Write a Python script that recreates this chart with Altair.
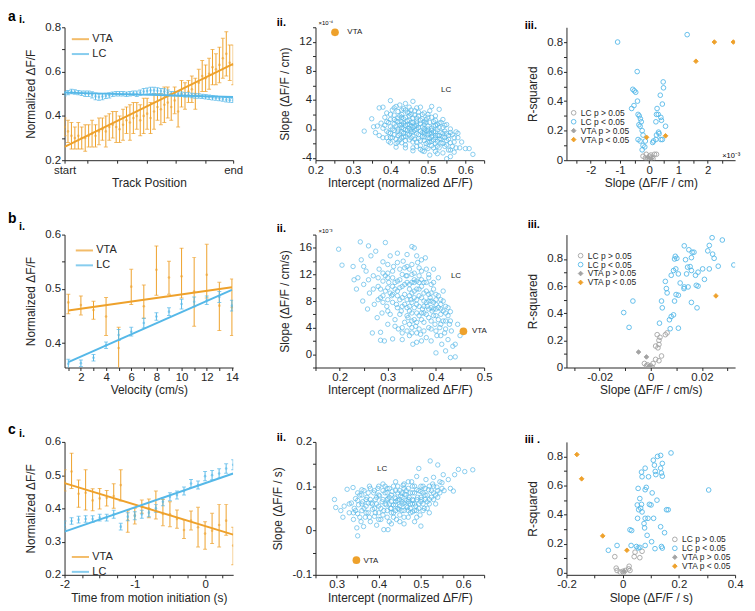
import altair as alt
import pandas as pd

FONT = "Liberation Sans"
VTA_C = "#EEA12B"
LC_C = "#55B8E8"
GREY = "#A3A3A3"
INK = "#262626"
W, H = 170, 134

# ---------------- a.i  track position ----------------
A1_X = list(range(50))
A1_VTA = [0.35, 0.33, 0.31, 0.30, 0.31, 0.30, 0.30, 0.31, 0.32, 0.31,
          0.33, 0.34, 0.33, 0.35, 0.36, 0.35, 0.34, 0.36, 0.38, 0.37,
          0.39, 0.40, 0.38, 0.40, 0.41, 0.39, 0.42, 0.44, 0.43, 0.45,
          0.46, 0.44, 0.47, 0.42, 0.50, 0.49, 0.51, 0.52, 0.50, 0.55,
          0.58, 0.57, 0.59, 0.62, 0.61, 0.63, 0.66, 0.68, 0.64, 0.63]
A1_VTA_ERR = [0.04, 0.05, 0.06, 0.05, 0.06, 0.05, 0.06, 0.05, 0.06, 0.05,
              0.06, 0.05, 0.07, 0.06, 0.06, 0.07, 0.06, 0.07, 0.06, 0.08,
              0.07, 0.06, 0.07, 0.08, 0.07, 0.07, 0.08, 0.06, 0.07, 0.08,
              0.07, 0.06, 0.06, 0.07, 0.06, 0.06, 0.05, 0.06, 0.07, 0.06,
              0.07, 0.06, 0.07, 0.08, 0.07, 0.08, 0.09, 0.10, 0.08, 0.09]
A1_LC = [0.500, 0.505, 0.510, 0.508, 0.505, 0.502, 0.500, 0.500, 0.495, 0.488,
         0.485, 0.487, 0.490, 0.493, 0.498, 0.500, 0.500, 0.500, 0.498, 0.500,
         0.502, 0.500, 0.505, 0.510, 0.512, 0.515, 0.515, 0.513, 0.512, 0.510,
         0.505, 0.500, 0.500, 0.500, 0.498, 0.495, 0.495, 0.492, 0.490, 0.490,
         0.488, 0.486, 0.484, 0.482, 0.480, 0.478, 0.476, 0.473, 0.471, 0.470]
A1_LC_ERR = [0.010, 0.010, 0.010, 0.010, 0.010, 0.010, 0.012, 0.012, 0.014, 0.015,
             0.015, 0.014, 0.012, 0.012, 0.010, 0.010, 0.010, 0.010, 0.010, 0.010,
             0.010, 0.012, 0.012, 0.014, 0.014, 0.014, 0.014, 0.014, 0.012, 0.012,
             0.012, 0.010, 0.010, 0.010, 0.010, 0.010, 0.010, 0.010, 0.010, 0.010,
             0.010, 0.010, 0.010, 0.010, 0.010, 0.010, 0.010, 0.010, 0.010, 0.010]
A1_FIT_X = [0, 49]
A1_VTA_FIT = [0.26, 0.635]
A1_LC_FIT = [0.505, 0.485]
A1_XTICKS = [0, 6.6, 15.4, 24, 32.3, 41, 49]
A1_XLABELS = [(0, "start"), (49, "end")]
A1_YTICKS = [0.2, 0.3, 0.4, 0.5, 0.6, 0.7, 0.8]
A1_YLABELS = [(0.2, "0.2"), (0.4, "0.4"), (0.6, "0.6"), (0.8, "0.8")]

# ---------------- b.i  velocity ----------------
B1_X = [1, 2, 3, 4, 5, 6, 7, 8, 9, 10, 11, 12, 13, 14]
B1_VTA = [0.475, 0.470, 0.461, 0.449, 0.391, 0.504, 0.468, 0.535, 0.521, 0.523, 0.495, 0.526, 0.469, 0.466]
B1_VTA_LO = [0.454, 0.452, 0.444, 0.414, 0.340, 0.471, 0.446, 0.488, 0.490, 0.483, 0.431, 0.483, 0.423, 0.414]
B1_VTA_HI = [0.490, 0.487, 0.477, 0.484, 0.429, 0.536, 0.507, 0.579, 0.551, 0.575, 0.558, 0.582, 0.512, 0.518]
B1_LC = [0.362, 0.363, 0.373, 0.396, 0.415, 0.421, 0.437, 0.449, 0.458, 0.472, 0.476, 0.479, 0.485, 0.469]
B1_LC_ERR = [0.008, 0.006, 0.006, 0.006, 0.010, 0.008, 0.009, 0.007, 0.007, 0.009, 0.009, 0.008, 0.010, 0.010]
B1_FIT_X = [1, 14]
B1_VTA_FIT = [0.460, 0.503]
B1_LC_FIT = [0.365, 0.498]
B1_XTICKS = list(range(1, 15))
B1_XLABELS = [(v, str(v)) for v in [2, 4, 6, 8, 10, 12, 14]]
B1_YTICKS = [0.4, 0.45, 0.5, 0.55, 0.6]
B1_YLABELS = [(0.4, "0.4"), (0.5, "0.5"), (0.6, "0.6")]

# ---------------- c.i  motion initiation ----------------
C1_X = [-2.0, -1.9, -1.8, -1.7, -1.6, -1.5, -1.4, -1.3, -1.2, -1.1, -1.0, -0.9, -0.8,
        -0.7, -0.6, -0.5, -0.4, -0.3, -0.2, -0.1, 0.0, 0.1, 0.2, 0.3, 0.4]
C1_VTA = [0.478, 0.511, 0.444, 0.447, 0.424, 0.430, 0.432, 0.437, 0.470, 0.365, 0.378, 0.405, 0.400,
          0.393, 0.383, 0.382, 0.368, 0.335, 0.363, 0.343, 0.324, 0.333, 0.350, 0.363, 0.288]
C1_VTA_LO = [0.452, 0.460, 0.403, 0.395, 0.393, 0.398, 0.407, 0.400, 0.422, 0.328, 0.353, 0.385, 0.372,
             0.368, 0.348, 0.345, 0.340, 0.309, 0.335, 0.284, 0.277, 0.294, 0.284, 0.319, 0.230]
C1_VTA_HI = [0.516, 0.566, 0.485, 0.516, 0.459, 0.460, 0.454, 0.474, 0.516, 0.393, 0.400, 0.425, 0.428,
             0.452, 0.427, 0.420, 0.395, 0.366, 0.392, 0.403, 0.360, 0.385, 0.412, 0.412, 0.343]
C1_LC = [0.350, 0.362, 0.366, 0.368, 0.368, 0.372, 0.372, 0.382, 0.345, 0.375, 0.378, 0.382, 0.387,
         0.400, 0.420, 0.435, 0.440, 0.452, 0.475, 0.470, 0.497, 0.500, 0.505, 0.520, 0.531]
C1_LC_ERR = [0.012, 0.010, 0.010, 0.010, 0.010, 0.010, 0.010, 0.012, 0.010, 0.012, 0.012, 0.012, 0.012,
             0.012, 0.012, 0.012, 0.012, 0.012, 0.012, 0.012, 0.014, 0.014, 0.014, 0.014, 0.015]
C1_FIT_X = [-2.0, 0.4]
C1_VTA_FIT = [0.476, 0.321]
C1_LC_FIT = [0.330, 0.505]
C1_XTICKS = [-2, -1.75, -1.5, -1.25, -1, -0.75, -0.5, -0.25, 0, 0.25]
C1_XLABELS = [(-2, "-2"), (-1, "-1"), (0, "0")]
C1_YTICKS = [0.2, 0.3, 0.4, 0.5, 0.6]
C1_YLABELS = [(0.2, "0.2"), (0.3, "0.3"), (0.4, "0.4"), (0.5, "0.5"), (0.6, "0.6")]

# ---------------- a.ii  intercept vs slope (x1e-4) ----------------
A2_LC = [(0.33, -0.3), (0.35, 1.4), (0.355, 0.3), (0.36, -0.5), (0.365, 0.4), (0.37, 2.9), (0.37, -0.9),
         (0.375, 0.8), (0.38, 3.0), (0.38, 0.1), (0.38, -1.2), (0.385, 1.6), (0.39, -0.3), (0.39, 2.2),
         (0.395, 0.9), (0.395, -1.7), (0.40, 3.9), (0.40, 1.3), (0.40, -0.6), (0.40, 0.3), (0.405, 2.6),
         (0.405, -1.2), (0.41, 0.7), (0.41, 1.9), (0.41, -0.2), (0.415, 3.1), (0.415, -2.0), (0.415, 1.1),
         (0.42, 0.0), (0.42, 2.4), (0.42, -0.9), (0.42, 1.5), (0.425, 0.5), (0.425, 3.3), (0.425, -1.5),
         (0.43, 1.0), (0.43, -0.4), (0.43, 2.0), (0.43, 0.2), (0.435, 2.8), (0.435, -1.1), (0.435, 0.8),
         (0.44, 3.5), (0.44, 1.6), (0.44, -0.1), (0.44, -2.2), (0.445, 0.6), (0.445, 2.3), (0.445, -0.7),
         (0.45, 1.2), (0.45, 3.0), (0.45, -1.5), (0.45, 0.1), (0.455, 2.0), (0.455, -0.4), (0.455, 0.9),
         (0.46, 3.8), (0.46, -2.6), (0.46, 1.5), (0.46, -1.0), (0.465, 0.4), (0.465, 2.5), (0.465, -0.2),
         (0.47, 1.1), (0.47, -1.8), (0.47, -0.6), (0.47, 2.9), (0.475, 0.2), (0.475, -1.3), (0.475, 1.8),
         (0.48, -2.3), (0.48, 0.7), (0.48, -0.3), (0.48, 3.0), (0.485, -1.0), (0.485, 1.4), (0.485, -3.0),
         (0.49, 0.0), (0.49, -1.6), (0.49, 2.2), (0.49, -0.7), (0.495, 0.9), (0.495, -2.0), (0.495, -0.2),
         (0.50, -1.2), (0.50, 1.6), (0.50, -2.7), (0.50, 0.4), (0.505, -0.6), (0.505, -1.8), (0.505, 2.5),
         (0.51, 0.1), (0.51, -1.0), (0.51, 3.1), (0.51, -2.3), (0.515, 1.0), (0.515, -0.4), (0.515, -1.5),
         (0.52, -3.1), (0.52, 0.5), (0.52, -2.0), (0.52, 1.8), (0.525, -0.9), (0.525, -0.1), (0.53, -1.4),
         (0.53, 2.7), (0.53, -2.6), (0.53, 0.8), (0.535, -0.5), (0.535, -1.9), (0.54, 0.2), (0.54, -3.3),
         (0.54, -1.1), (0.54, 1.3), (0.545, -2.4), (0.545, -0.3), (0.55, -1.6), (0.55, 0.6), (0.55, -4.1),
         (0.555, -2.9), (0.555, -0.9), (0.56, -3.8), (0.56, -1.9), (0.56, 0.0), (0.565, -2.4), (0.57, -1.2),
         (0.57, -3.2), (0.575, -0.4), (0.58, -1.2), (0.585, -2.6), (0.60, -2.7), (0.61, -2.7), (0.62, -3.5),
         (0.59, -1.8), (0.565, -0.8), (0.525, -3.4), (0.505, -3.6), (0.49, -3.1), (0.46, -3.0), (0.44, -2.6),
         (0.43, -1.9), (0.415, -2.5), (0.40, -1.9), (0.39, -1.2), (0.45, 0.6), (0.47, 0.5), (0.49, -0.4),
         (0.51, -0.6), (0.43, 0.6), (0.46, 0.2), (0.50, -0.3), (0.52, -0.9)]
A2_LC_CORE = [(0.385, 0.5), (0.39, 1.0), (0.395, -0.5), (0.40, 2.0), (0.405, 0.0), (0.41, -0.8), (0.41, 2.9),
              (0.415, 0.4), (0.415, -1.4), (0.42, 1.0), (0.42, -0.3), (0.425, 1.8), (0.425, -0.7), (0.43, 2.6),
              (0.43, -1.2), (0.435, 0.0), (0.435, 1.4), (0.44, 0.5), (0.44, -1.6), (0.44, 2.6), (0.445, 1.1),
              (0.445, -0.2), (0.45, -0.8), (0.45, 1.8), (0.455, 0.4), (0.455, -1.2), (0.455, 2.6), (0.46, 0.9),
              (0.46, -0.4), (0.465, 1.9), (0.465, -1.4), (0.47, 0.0), (0.47, 0.8), (0.475, -0.8), (0.475, 2.3),
              (0.48, 1.2), (0.48, -1.6), (0.485, 0.3), (0.485, -0.5), (0.485, 2.0), (0.49, -1.1), (0.49, 0.6),
              (0.495, -2.5), (0.495, 1.3), (0.50, -0.8), (0.50, 0.0), (0.50, -1.8), (0.505, 0.9), (0.505, -1.3),
              (0.51, -0.2), (0.51, -1.7), (0.51, 1.6), (0.515, -2.6), (0.515, 0.4), (0.52, -1.2), (0.52, -0.4),
              (0.525, 0.6), (0.525, -1.7), (0.525, -2.4), (0.53, -0.9), (0.53, 0.2), (0.535, -1.4), (0.535, 0.9),
              (0.54, -0.6), (0.54, -2.0), (0.545, -1.2), (0.545, 0.5), (0.55, -0.6), (0.55, -2.2), (0.555, -1.4),
              (0.56, -0.5), (0.56, -2.9), (0.57, -1.8), (0.575, -2.6), (0.58, -0.6), (0.41, 1.3), (0.43, 1.6),
              (0.45, 2.2), (0.47, 1.5), (0.49, 1.0), (0.40, -1.2), (0.42, -1.8), (0.46, -1.8), (0.48, -2.8),
              (0.44, -1.0), (0.47, -2.4), (0.50, 2.0), (0.52, 1.2), (0.435, -0.6), (0.455, -0.1)]
A2_VTA = [(0.252, 13.3)]
A2_TEXT = [(0.285, 13.3, "VTA"), (0.535, 5.3, "LC")]
A2_XTICKS = [0.2, 0.25, 0.3, 0.35, 0.4, 0.45, 0.5, 0.55, 0.6, 0.65]
A2_XLABELS = [(0.2, "0.2"), (0.3, "0.3"), (0.4, "0.4"), (0.5, "0.5"), (0.6, "0.6")]
A2_YTICKS = [-4, -2, 0, 2, 4, 6, 8, 10, 12, 14]
A2_YLABELS = [(-4, "-4"), (0, "0"), (4, "4"), (8, "8"), (12, "12")]

# ---------------- b.ii  (x1e-3) ----------------
B2_LC = [(0.198, 15.8), (0.205, 13.4), (0.228, 13.2), (0.23, 11.2), (0.235, 9.8), (0.238, 11.5), (0.243, 16.9),
         (0.245, 14.2), (0.248, 8.0), (0.25, 10.5), (0.255, 12.5), (0.258, 6.8), (0.26, 16.3), (0.262, 9.2),
         (0.265, 14.8), (0.268, 3.2), (0.27, 11.8), (0.272, 7.5), (0.275, 15.5), (0.278, 5.5), (0.28, 10.2),
         (0.282, 12.8), (0.285, 3.3), (0.285, 8.5), (0.288, 6.2), (0.29, 13.9), (0.29, 11.0), (0.293, 2.0),
         (0.295, 16.8), (0.295, 9.5), (0.298, 7.2), (0.30, 4.5), (0.30, 12.2), (0.302, 10.8), (0.305, 14.8),
         (0.305, 6.0), (0.308, 8.8), (0.31, 2.3), (0.31, 11.5), (0.312, 13.2), (0.315, 5.2), (0.315, 9.8),
         (0.318, 7.5), (0.32, 15.2), (0.32, 11.0), (0.322, 3.8), (0.325, 8.2), (0.325, 12.8), (0.328, 6.5),
         (0.33, 10.2), (0.33, 2.2), (0.332, 14.0), (0.335, 4.8), (0.335, 9.0), (0.338, 11.8), (0.34, 7.0),
         (0.34, 13.2), (0.342, 5.5), (0.345, 10.5), (0.345, 2.8), (0.348, 8.2), (0.35, 16.2), (0.35, 12.0),
         (0.35, 6.2), (0.352, 1.5), (0.355, 9.5), (0.355, 16.0), (0.358, 4.2), (0.36, 11.0), (0.36, 7.5),
         (0.362, 13.8), (0.365, 5.8), (0.365, 8.8), (0.368, 3.0), (0.37, 10.2), (0.37, 12.5), (0.372, 6.8),
         (0.375, 8.0), (0.375, 4.8), (0.378, 14.5), (0.38, 9.5), (0.38, 2.5), (0.382, 7.2), (0.385, 11.5),
         (0.385, 5.5), (0.388, 8.5), (0.39, 3.8), (0.39, 10.5), (0.392, 6.5), (0.395, 12.8), (0.395, 7.8),
         (0.398, 4.5), (0.40, 0.2), (0.40, 9.0), (0.40, 5.8), (0.402, 2.8), (0.405, 7.0), (0.405, 11.5),
         (0.408, 4.0), (0.41, 8.2), (0.41, 6.0), (0.412, 1.5), (0.415, 5.0), (0.415, 9.5), (0.418, 3.2),
         (0.42, 7.2), (0.42, 0.5), (0.425, 5.8), (0.425, 2.2), (0.428, 4.5), (0.43, 6.4), (0.43, -0.5),
         (0.432, 3.5), (0.435, 1.2), (0.44, -0.4), (0.44, 1.5), (0.445, 4.5), (0.45, 2.8), (0.34, 3.5),
         (0.36, 1.8), (0.335, 7.5), (0.345, 8.8), (0.355, 7.0), (0.365, 9.8), (0.375, 7.2), (0.385, 9.0),
         (0.39, 8.0), (0.36, 8.2), (0.37, 6.2), (0.35, 9.2), (0.34, 10.8), (0.33, 8.5), (0.325, 10.0),
         (0.38, 6.0), (0.395, 6.8), (0.40, 7.5), (0.31, 9.0), (0.32, 7.0), (0.355, 10.8), (0.365, 11.8),
         (0.375, 10.8), (0.345, 12.8), (0.30, 11.5), (0.29, 12.2), (0.28, 11.5), (0.30, 8.2), (0.385, 4.0),
         (0.41, 6.8), (0.42, 5.0), (0.35, 4.0), (0.36, 3.2), (0.37, 2.0), (0.285, 2.1)]
B2_LC_CORE = [(0.285, 9.8), (0.29, 7.8), (0.295, 11.8), (0.30, 6.5), (0.30, 13.5), (0.305, 9.2), (0.31, 7.8),
              (0.31, 12.5), (0.315, 10.8), (0.315, 4.2), (0.32, 8.8), (0.32, 13.8), (0.325, 6.0), (0.325, 11.2),
              (0.33, 7.2), (0.33, 12.0), (0.33, 4.0), (0.335, 10.5), (0.335, 13.0), (0.34, 8.2), (0.34, 5.8),
              (0.34, 11.8), (0.345, 7.2), (0.345, 9.8), (0.345, 4.5), (0.35, 10.8), (0.35, 7.8), (0.35, 13.5),
              (0.355, 5.2), (0.355, 8.5), (0.355, 12.2), (0.36, 9.8), (0.36, 6.2), (0.36, 4.8), (0.365, 7.2),
              (0.365, 10.8), (0.365, 13.0), (0.37, 8.5), (0.37, 5.2), (0.37, 11.2), (0.375, 9.2), (0.375, 6.2),
              (0.375, 3.5), (0.38, 7.8), (0.38, 10.8), (0.38, 12.8), (0.385, 6.8), (0.385, 8.0), (0.39, 9.2),
              (0.39, 5.0), (0.39, 7.0), (0.395, 9.8), (0.395, 5.8), (0.40, 8.2), (0.40, 6.8), (0.40, 3.5),
              (0.405, 8.8), (0.405, 5.2), (0.41, 7.5), (0.41, 4.5), (0.415, 6.5), (0.415, 8.0), (0.42, 6.2),
              (0.42, 3.8), (0.425, 7.0), (0.43, 5.0), (0.36, 14.8), (0.37, 14.2), (0.34, 15.0), (0.32, 9.5),
              (0.31, 10.2), (0.30, 10.0), (0.29, 8.8), (0.28, 8.2), (0.27, 9.8), (0.26, 11.2), (0.25, 13.2),
              (0.35, 3.2), (0.33, 3.2), (0.39, 2.0), (0.41, 2.8), (0.385, 12.0), (0.395, 10.8), (0.345, 6.5),
              (0.355, 11.2), (0.365, 3.8), (0.35, 5.0)]
B2_VTA = [(0.457, 3.45)]
B2_TEXT = [(0.475, 3.45, "VTA"), (0.431, 11.7, "LC")]
B2_XTICKS = [0.15, 0.2, 0.25, 0.3, 0.35, 0.4, 0.45, 0.5]
B2_XLABELS = [(0.2, "0.2"), (0.3, "0.3"), (0.4, "0.4"), (0.5, "0.5")]
B2_YTICKS = [-2, 0, 2, 4, 6, 8, 10, 12, 14, 16, 18]
B2_YLABELS = [(0, "0"), (4, "4"), (8, "8"), (12, "12"), (16, "16")]

# ---------------- c.ii ----------------
C2_LC = [(0.295, 0.070), (0.298, 0.052), (0.31, 0.045), (0.315, 0.03), (0.318, 0.055), (0.325, 0.093),
         (0.33, 0.04), (0.335, 0.062), (0.339, 0.097), (0.34, 0.025), (0.342, 0.05), (0.345, 0.072),
         (0.348, 0.006), (0.35, -0.012), (0.35, 0.038), (0.352, 0.058), (0.355, 0.08), (0.358, 0.02),
         (0.36, 0.045), (0.362, 0.065), (0.364, 0.009), (0.365, 0.09), (0.368, 0.03), (0.37, 0.055),
         (0.372, 0.075), (0.375, 0.04), (0.378, 0.1), (0.38, 0.02), (0.382, 0.062), (0.385, 0.048),
         (0.388, 0.085), (0.39, 0.032), (0.392, 0.07), (0.395, 0.012), (0.398, 0.095), (0.40, 0.055),
         (0.40, 0.04), (0.402, 0.078), (0.405, 0.025), (0.408, 0.065), (0.41, 0.105), (0.412, 0.002),
         (0.412, 0.045), (0.415, 0.085), (0.418, 0.058), (0.42, 0.03), (0.422, 0.002), (0.422, 0.072),
         (0.425, 0.095), (0.428, 0.05), (0.43, 0.065), (0.43, 0.015), (0.432, 0.088), (0.435, 0.04),
         (0.438, 0.075), (0.44, 0.058), (0.44, 0.11), (0.442, 0.025), (0.445, 0.068), (0.448, 0.048),
         (0.45, 0.09), (0.45, 0.035), (0.452, 0.078), (0.455, 0.06), (0.458, 0.102), (0.46, 0.015),
         (0.46, 0.045), (0.462, 0.082), (0.465, 0.068), (0.468, 0.052), (0.47, 0.095), (0.47, 0.03),
         (0.472, 0.075), (0.475, 0.06), (0.478, 0.11), (0.48, 0.042), (0.48, 0.085), (0.482, 0.068),
         (0.485, 0.02), (0.488, 0.055), (0.49, 0.122), (0.49, 0.092), (0.492, 0.075), (0.495, 0.14),
         (0.495, 0.06), (0.498, 0.035), (0.50, 0.088), (0.50, 0.01), (0.502, 0.07), (0.505, 0.1),
         (0.508, 0.05), (0.51, 0.08), (0.512, 0.115), (0.515, 0.065), (0.518, 0.092), (0.52, 0.04),
         (0.522, 0.157), (0.525, 0.075), (0.528, 0.105), (0.53, 0.085), (0.535, 0.06), (0.538, 0.098),
         (0.54, 0.148), (0.54, 0.075), (0.545, 0.11), (0.55, 0.108), (0.553, 0.126), (0.555, 0.09),
         (0.565, 0.115), (0.57, 0.095), (0.577, 0.089), (0.58, 0.126), (0.589, 0.138), (0.604, 0.133),
         (0.623, 0.137), (0.375, 0.062), (0.39, 0.05), (0.41, 0.07), (0.43, 0.04), (0.445, 0.085),
         (0.455, 0.045), (0.465, 0.09), (0.475, 0.04), (0.485, 0.1), (0.46, 0.062), (0.44, 0.072),
         (0.42, 0.085), (0.47, 0.07), (0.48, 0.06), (0.49, 0.045), (0.50, 0.065), (0.45, 0.055),
         (0.435, 0.058), (0.36, 0.092), (0.33, 0.06), (0.52, 0.06), (0.53, 0.12)]
C2_LC_CORE = [(0.345, 0.045), (0.35, 0.068), (0.355, 0.03), (0.36, 0.08), (0.365, 0.05), (0.37, 0.04),
              (0.375, 0.085), (0.378, 0.03), (0.38, 0.07), (0.385, 0.06), (0.39, 0.09), (0.392, 0.04),
              (0.395, 0.06), (0.40, 0.08), (0.40, 0.025), (0.405, 0.05), (0.41, 0.09), (0.41, 0.035),
              (0.415, 0.06), (0.415, 0.1), (0.42, 0.045), (0.42, 0.07), (0.425, 0.06), (0.425, 0.02),
              (0.43, 0.08), (0.43, 0.05), (0.435, 0.1), (0.435, 0.03), (0.44, 0.065), (0.44, 0.045),
              (0.445, 0.05), (0.445, 0.1), (0.45, 0.07), (0.45, 0.02), (0.455, 0.085), (0.455, 0.075),
              (0.46, 0.095), (0.46, 0.03), (0.465, 0.055), (0.465, 0.08), (0.47, 0.045), (0.47, 0.11),
              (0.475, 0.085), (0.475, 0.05), (0.48, 0.07), (0.48, 0.1), (0.485, 0.06), (0.485, 0.085),
              (0.49, 0.07), (0.49, 0.03), (0.495, 0.09), (0.495, 0.05), (0.50, 0.1), (0.50, 0.075),
              (0.505, 0.06), (0.505, 0.085), (0.51, 0.095), (0.51, 0.07), (0.515, 0.08), (0.515, 0.05),
              (0.52, 0.1), (0.52, 0.07), (0.525, 0.09), (0.53, 0.07), (0.53, 0.1), (0.535, 0.08),
              (0.54, 0.09), (0.545, 0.085), (0.55, 0.095), (0.44, 0.09), (0.42, 0.095), (0.40, 0.1),
              (0.38, 0.095), (0.36, 0.06), (0.34, 0.04), (0.47, 0.065), (0.455, 0.065), (0.425, 0.075),
              (0.395, 0.075), (0.485, 0.045), (0.505, 0.045), (0.46, 0.105), (0.37, 0.07), (0.35, 0.085)]
C2_VTA = [(0.347, -0.067)]
C2_TEXT = [(0.364, -0.069, "VTA"), (0.396, 0.138, "LC")]
C2_XTICKS = [0.25, 0.3, 0.35, 0.4, 0.45, 0.5, 0.55, 0.6, 0.65]
C2_XLABELS = [(0.3, "0.3"), (0.4, "0.4"), (0.5, "0.5"), (0.6, "0.6")]
C2_YTICKS = [-0.1, -0.05, 0, 0.05, 0.1, 0.15, 0.2]
C2_YLABELS = [(-0.1, "-0.1"), (0, "0"), (0.1, "0.1"), (0.2, "0.2")]

# ---------------- iii panels : slope vs R-squared ----------------
GROUPS = ["LC p > 0.05", "LC p < 0.05", "VTA p > 0.05", "VTA p < 0.05"]
STROKES = [GREY, LC_C, GREY, VTA_C]
FILLS = ["transparent", "transparent", GREY, VTA_C]
SHAPES = ["circle", "circle", "diamond", "diamond"]

A3_LC_NS = [(-0.21, 0.027), (-0.13, 0.015), (-0.04, 0.01), (0.04, 0.004), (0.09, 0.02), (0.18, 0.04),
            (0.25, 0.04), (-0.10, 0.04), (0.01, 0.027), (0.13, 0.01), (-0.07, 0.005), (0.06, 0.035)]
A3_LC_SIG = [(-1.08, 0.80), (1.30, 0.85), (-0.41, 0.60), (-0.56, 0.48), (-0.51, 0.47), (-0.46, 0.46),
             (-0.60, 0.35), (-0.52, 0.37), (-0.40, 0.40), (-0.38, 0.31), (-0.34, 0.30), (-0.30, 0.28),
             (-0.27, 0.26), (-0.35, 0.24), (-0.31, 0.23), (-0.24, 0.20), (-0.38, 0.14), (-0.31, 0.13),
             (-0.21, 0.17), (-0.21, 0.10), (-0.15, 0.09), (-0.24, 0.07), (-0.13, 0.13), (0.48, 0.53),
             (0.49, 0.49), (0.38, 0.44), (0.45, 0.38), (0.27, 0.35), (0.25, 0.31), (0.31, 0.31),
             (0.40, 0.29), (0.42, 0.27), (0.23, 0.26), (0.56, 0.23), (0.32, 0.19), (0.34, 0.18),
             (0.25, 0.17), (0.40, 0.14), (0.45, 0.14), (0.15, 0.13), (0.12, 0.12), (0.23, 0.14)]
A3_VTA_NS = [(-0.04, 0.02), (0.07, 0.01)]
A3_VTA_SIG = [(-0.09, 0.155), (0.56, 0.165), (1.60, 0.67), (2.23, 0.80), (2.88, 0.80)]
A3_XTICKS = [-2.5, -2, -1.5, -1, -0.5, 0, 0.5, 1, 1.5, 2, 2.5]
A3_XLABELS = [(-2, "-2"), (-1, "-1"), (0, "0"), (1, "1"), (2, "2")]

B3_LC_NS = [(0.0025, 0.242), (0.0036, 0.223), (0.0032, 0.20), (0.0019, 0.158), (0.0028, 0.145),
            (0.0032, 0.17), (0.0057, 0.242), (0.0064, 0.255), (0.0042, 0.085), (0.0019, 0.06),
            (0.0032, 0.05), (0.0009, 0.03), (-0.0013, 0.02), (-0.0025, 0.03), (-0.0006, 0.005),
            (-0.0017, 0.012), (0.0006, 0.0), (0.0, 0.012)]
B3_LC_SIG = [(-0.0106, 0.405), (-0.007, 0.49), (-0.0085, 0.296), (0.024, 0.957), (0.028, 0.94),
             (0.0325, 0.756), (0.0229, 0.90), (0.0223, 0.86), (0.0242, 0.836), (0.0248, 0.805),
             (0.0264, 0.747), (0.0229, 0.727), (0.0203, 0.727), (0.021, 0.65), (0.0169, 0.85),
             (0.0159, 0.81), (0.0131, 0.897), (0.0149, 0.868), (0.0162, 0.85), (0.0096, 0.82),
             (0.0093, 0.80), (0.0102, 0.805), (0.0136, 0.795), (0.0089, 0.715), (0.0098, 0.727),
             (0.0144, 0.74), (0.0154, 0.744), (0.0159, 0.715), (0.0185, 0.703), (0.0108, 0.69),
             (0.008, 0.68), (0.014, 0.69), (0.0175, 0.68), (0.0057, 0.635), (0.0115, 0.623),
             (0.0131, 0.594), (0.013, 0.582), (0.0146, 0.594), (0.0178, 0.606), (0.0185, 0.60),
             (0.0061, 0.582), (0.0064, 0.55), (0.0099, 0.538), (0.0108, 0.533), (0.0093, 0.49),
             (0.0159, 0.48), (0.0181, 0.44), (0.0042, 0.49), (0.0045, 0.44), (0.0089, 0.388),
             (0.008, 0.376), (0.0073, 0.352), (0.0034, 0.327), (0.0108, 0.29), (0.0076, 0.286)]
B3_VTA_NS = [(-0.0048, 0.114), (-0.0017, 0.078), (-0.0006, 0.01)]
B3_VTA_SIG = [(0.0255, 0.528)]
B3_XTICKS = [-0.03, -0.02, -0.01, 0, 0.01, 0.02, 0.03]
B3_XLABELS = [(-0.02, "-0.02"), (0, "0"), (0.02, "0.02")]

C3_LC_NS = [(-0.028, 0.11), (-0.023, 0.031), (-0.02, 0.015), (-0.009, 0.004), (0.0, 0.009),
            (0.009, 0.015), (0.003, 0.0), (0.021, 0.026), (0.023, 0.044), (0.026, 0.015),
            (0.041, 0.11), (0.061, 0.103), (0.069, 0.147), (0.044, 0.141)]
C3_LC_SIG = [(-0.051, 0.154), (-0.02, 0.187), (0.03, 0.187), (0.026, 0.295), (0.032, 0.29),
             (0.049, 0.18), (0.055, 0.17), (0.061, 0.174), (0.08, 0.187), (0.115, 0.165),
             (0.103, 0.213), (0.138, 0.18), (0.141, 0.169), (0.087, 0.257), (0.149, 0.275),
             (0.135, 0.316), (0.053, 0.374), (0.069, 0.418), (0.08, 0.374), (0.078, 0.308),
             (0.076, 0.338), (0.11, 0.374), (0.09, 0.374), (0.057, 0.433), (0.064, 0.444),
             (0.052, 0.466), (0.067, 0.47), (0.095, 0.47), (0.101, 0.466), (0.156, 0.433),
             (0.162, 0.433), (0.061, 0.51), (0.055, 0.58), (0.08, 0.571), (0.084, 0.587),
             (0.105, 0.549), (0.122, 0.499), (0.069, 0.66), (0.092, 0.66), (0.067, 0.692),
             (0.08, 0.719), (0.118, 0.675), (0.116, 0.697), (0.138, 0.686), (0.141, 0.664),
             (0.135, 0.719), (0.113, 0.74), (0.109, 0.774), (0.141, 0.752), (0.124, 0.80),
             (0.135, 0.807), (0.172, 0.824), (0.306, 0.569)]
C3_VTA_NS = [(0.005, 0.01)]
C3_VTA_SIG = [(-0.163, 0.813), (-0.146, 0.646), (-0.071, 0.253), (0.015, 0.154)]
C3_XTICKS = [-0.2, -0.1, 0, 0.1, 0.2, 0.3, 0.4]
C3_XLABELS = [(-0.2, "-0.2"), (0, "0"), (0.2, "0.2"), (0.4, "0.4")]

R2_YTICKS = [0, 0.1, 0.2, 0.3, 0.4, 0.5, 0.6, 0.7, 0.8]
R2_YLABELS = [(0, "0"), (0.2, "0.2"), (0.4, "0.4"), (0.6, "0.6"), (0.8, "0.8")]

ONE = pd.DataFrame({"k": [0]})


def label_expr(pairs):
    expr = "''"
    for v, t in reversed(pairs):
        expr = f"abs(datum.value - ({v})) < 1e-6 ? '{t}' : ({expr})"
    return expr


def axis(title, ticks, labels):
    return alt.Axis(title=title, values=ticks, labelExpr=label_expr(labels),
                    labelOverlap=False, labelFlush=False, grid=False)


def txt(text, dx, dy, size, bold=True, align="left"):
    return alt.Chart(ONE).mark_text(
        text=text, fontSize=size, fontWeight="bold" if bold else "normal", align=align,
        baseline="alphabetic", font=FONT, color="black"
    ).encode(x=alt.value(dx), y=alt.value(dy))


def panel_i(x, vta, vta_lo, vta_hi, lc, lc_lo, lc_hi, fit_x, vta_fit, lc_fit,
            xdom, ydom, xaxis, yaxis, legend, extras):
    rows = []
    for s, m, lo, hi in (("VTA", vta, vta_lo, vta_hi), ("LC", lc, lc_lo, lc_hi)):
        for xi, mi, l, h in zip(x, m, lo, hi):
            rows.append(dict(x=xi, m=mi, lo=l, hi=h, series=s))
    df = pd.DataFrame(rows)
    fit = pd.DataFrame([dict(x=fx, y=fy, series=s)
                        for s, ys in (("VTA", vta_fit), ("LC", lc_fit))
                        for fx, fy in zip(fit_x, ys)])
    xs = alt.Scale(domain=xdom, nice=False, zero=False)
    ys = alt.Scale(domain=ydom, nice=False, zero=False)
    cs = alt.Scale(domain=["VTA", "LC"], range=[VTA_C, LC_C])
    X = alt.X("x:Q", scale=xs, axis=xaxis)
    col = alt.Color("series:N", scale=cs, legend=legend)
    layers = []
    for s in ("VTA", "LC"):
        base = alt.Chart(df).transform_filter(alt.datum.series == s)
        layers += [
            base.mark_rule(strokeWidth=1, clip=True).encode(
                X, y=alt.Y("lo:Q", scale=ys, axis=yaxis), y2="hi:Q", color=col),
            base.mark_tick(orient="horizontal", size=4, thickness=1, clip=True).encode(
                X, y=alt.Y("lo:Q", scale=ys, axis=yaxis), color=col),
            base.mark_tick(orient="horizontal", size=4, thickness=1, clip=True).encode(
                X, y=alt.Y("hi:Q", scale=ys, axis=yaxis), color=col),
            base.mark_point(filled=True, size=7, opacity=0.6, clip=True).encode(
                X, y=alt.Y("m:Q", scale=ys, axis=yaxis), color=col),
        ]
    for s in ("VTA", "LC"):
        layers.append(alt.Chart(fit).transform_filter(alt.datum.series == s)
                      .mark_line(strokeWidth=2, clip=True).encode(
            X, y=alt.Y("y:Q", scale=ys, axis=yaxis), color=col))
    return alt.layer(*layers, *extras).properties(width=W, height=H)


def panel_ii(cloud, vta, texts, xdom, ydom, xaxis, yaxis, extras):
    xs = alt.Scale(domain=xdom, nice=False, zero=False)
    ys = alt.Scale(domain=ydom, nice=False, zero=False)
    X = alt.X("x:Q", scale=xs, axis=xaxis)
    Y = alt.Y("y:Q", scale=ys, axis=yaxis)
    cdf = pd.DataFrame(cloud, columns=["x", "y"])
    vdf = pd.DataFrame(vta, columns=["x", "y"])
    tdf = pd.DataFrame(texts, columns=["x", "y", "t"])
    pts = alt.Chart(cdf).mark_point(shape="circle", size=20, strokeWidth=0.75, color=LC_C,
                                    opacity=0.9, clip=True).encode(X, Y)
    v = alt.Chart(vdf).mark_point(filled=True, size=60, color=VTA_C, opacity=1).encode(X, Y)
    t = alt.Chart(tdf).mark_text(align="left", baseline="middle", fontSize=8, font=FONT,
                                 color="#222222").encode(X, Y, text="t:N")
    return alt.layer(pts, v, t, *extras).properties(width=W, height=H)


def panel_iii(lc_ns, lc_sig, vta_ns, vta_sig, xdom, ydom, xaxis, yaxis, legend, extras):
    rows = []
    for g, pts in zip(GROUPS, (lc_ns, lc_sig, vta_ns, vta_sig)):
        for px, py in pts:
            rows.append(dict(x=px, y=py, group=g))
    df = pd.DataFrame(rows)
    xs = alt.Scale(domain=xdom, nice=False, zero=False)
    ys = alt.Scale(domain=ydom, nice=False, zero=False)
    p = alt.Chart(df).mark_point(size=22, strokeWidth=0.9, opacity=1, clip=True).encode(
        x=alt.X("x:Q", scale=xs, axis=xaxis),
        y=alt.Y("y:Q", scale=ys, axis=yaxis),
        stroke=alt.Stroke("group:N", scale=alt.Scale(domain=GROUPS, range=STROKES), legend=legend),
        fill=alt.Fill("group:N", scale=alt.Scale(domain=GROUPS, range=FILLS), legend=legend),
        shape=alt.Shape("group:N", scale=alt.Scale(domain=GROUPS, range=SHAPES), legend=legend),
    )
    return alt.layer(p, *extras).properties(width=W, height=H)


def line_legend(ox, oy):
    return alt.Legend(title=None, orient="none", legendX=ox, legendY=oy, symbolType="stroke",
                      symbolSize=300, symbolStrokeWidth=2, labelFontSize=11, labelFont=FONT,
                      rowPadding=0, padding=0, labelOffset=2, labelColor=INK)


def pt_legend(**kw):
    return alt.Legend(title=None, labelFontSize=8.5, labelFont=FONT, symbolSize=22,
                      symbolStrokeWidth=0.9, rowPadding=-1, padding=0, labelOffset=3,
                      labelColor=INK, **kw)


def expo(text, dx, dy, size):
    return txt(text, dx, dy, size, bold=False)


NORM = "Normalized \u0394F/F"
ICPT = "Intercept (normalized \u0394F/F)"

a1 = panel_i(A1_X, A1_VTA, [m - e for m, e in zip(A1_VTA, A1_VTA_ERR)],
             [m + e for m, e in zip(A1_VTA, A1_VTA_ERR)],
             A1_LC, [m - e for m, e in zip(A1_LC, A1_LC_ERR)], [m + e for m, e in zip(A1_LC, A1_LC_ERR)],
             A1_FIT_X, A1_VTA_FIT, A1_LC_FIT, [0, 49], [0.2, 0.8],
             axis("Track Position", A1_XTICKS, A1_XLABELS), axis(NORM, A1_YTICKS, A1_YLABELS),
             line_legend(6, 2), [txt("a", -57, -6, 14), txt("i.", -46, -4, 11)])

a2 = panel_ii(A2_LC + A2_LC_CORE, A2_VTA, A2_TEXT, [0.2, 0.65], [-4.3, 14],
              axis(ICPT, A2_XTICKS, A2_XLABELS), axis("Slope (\u0394F/F / cm)", A2_YTICKS, A2_YLABELS),
              [txt("ii.", -39, -1, 11), expo("\u00d710\u207b\u2074", 3, -2, 6)])

a3 = panel_iii(A3_LC_NS, A3_LC_SIG, A3_VTA_NS, A3_VTA_SIG, [-2.83, 2.94], [0, 0.9],
               axis("Slope (\u0394F/F / cm)", A3_XTICKS, A3_XLABELS),
               axis("R-squared", R2_YTICKS, R2_YLABELS),
               pt_legend(orient="none", legendX=3, legendY=82),
               [txt("iii.", -42, 2, 11), expo("\u00d710\u207b\u00b3", W - 13, H - 2, 7.5)])

b1 = panel_i(B1_X, B1_VTA, B1_VTA_LO, B1_VTA_HI,
             B1_LC, [m - e for m, e in zip(B1_LC, B1_LC_ERR)], [m + e for m, e in zip(B1_LC, B1_LC_ERR)],
             B1_FIT_X, B1_VTA_FIT, B1_LC_FIT, [0.7, 14.1], [0.355, 0.6],
             axis("Velocity (cm/s)", B1_XTICKS, B1_XLABELS), axis(NORM, B1_YTICKS, B1_YLABELS),
             line_legend(10, 6), [txt("b", -57, -12, 14), txt("i.", -46, -5, 11)])

b2 = panel_ii(B2_LC + B2_LC_CORE, B2_VTA, B2_TEXT, [0.15, 0.5], [-2, 18],
              axis(ICPT, B2_XTICKS, B2_XLABELS), axis("Slope (\u0394F/F / cm/s)", B2_YTICKS, B2_YLABELS),
              [txt("ii.", -39, -3, 11), expo("\u00d710\u207b\u00b3", 3, -2, 6)])

b3 = panel_iii(B3_LC_NS, B3_LC_SIG, B3_VTA_NS, B3_VTA_SIG, [-0.033, 0.033], [0, 0.98],
               axis("Slope (\u0394F/F / cm/s)", B3_XTICKS, B3_XLABELS),
               axis("R-squared", R2_YTICKS, R2_YLABELS),
               pt_legend(orient="none", legendX=10, legendY=17),
               [txt("iii.", -39, -7, 11)])

c1 = panel_i(C1_X, C1_VTA, C1_VTA_LO, C1_VTA_HI,
             C1_LC, [m - e for m, e in zip(C1_LC, C1_LC_ERR)], [m + e for m, e in zip(C1_LC, C1_LC_ERR)],
             C1_FIT_X, C1_VTA_FIT, C1_LC_FIT, [-2, 0.4], [0.2, 0.6],
             axis("Time from motion initiation (s)", C1_XTICKS, C1_XLABELS),
             axis(NORM, C1_YTICKS, C1_YLABELS),
             line_legend(6, H - 28), [txt("c", -57, -8, 14), txt("i.", -46, -5, 11)])

c2 = panel_ii(C2_LC + C2_LC_CORE, C2_VTA, C2_TEXT, [0.25, 0.65], [-0.1, 0.2],
              axis(ICPT, C2_XTICKS, C2_XLABELS), axis("Slope (\u0394F/F / s)", C2_YTICKS, C2_YLABELS),
              [txt("ii.", -39, -1, 11)])

c3 = panel_iii(C3_LC_NS, C3_LC_SIG, C3_VTA_NS, C3_VTA_SIG, [-0.2, 0.4], [-0.015, 0.9],
               axis("Slope (\u0394F/F / s)", C3_XTICKS, C3_XLABELS),
               axis("R-squared", R2_YTICKS, R2_YLABELS),
               pt_legend(orient="bottom-right", offset=4),
               [txt("iii .", -42, 1, 11)])

CH = ["color", "stroke", "fill", "shape"]

chart = alt.concat(a1, a2, a3, b1, b2, b3, c1, c2, c3, columns=3, bounds="flush",
                   spacing={"row": 75, "column": 83}).resolve_scale(
    **{k: "independent" for k in CH}).resolve_legend(
    **{k: "independent" for k in CH}).properties(
    padding={"left": 0, "top": 0, "right": 4, "bottom": 0}, background="white"
).configure(font=FONT).configure_view(stroke=None).configure_axis(
    domainColor=INK, tickColor=INK, labelColor=INK, titleColor=INK, domainWidth=1, tickWidth=1,
    labelFontSize=11.5, titleFontSize=12, titleFontWeight="normal", tickSize=3, labelPadding=1,
    labelFont=FONT, titleFont=FONT
).configure_axisX(titlePadding=2).configure_axisY(titlePadding=7)

chart.save("out.html", embed_options={"renderer": "svg", "actions": False})
